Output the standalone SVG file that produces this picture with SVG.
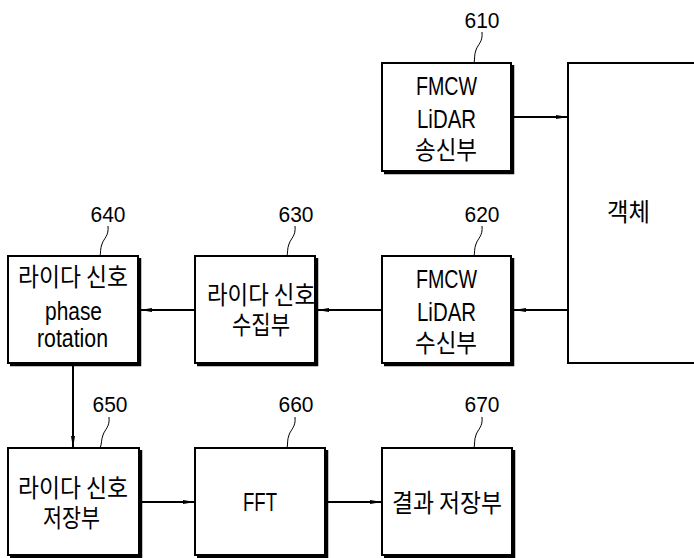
<svg xmlns="http://www.w3.org/2000/svg" width="694" height="558" viewBox="0 0 694 558">
<defs>
<marker id="ah" markerWidth="12" markerHeight="6" refX="12" refY="3" orient="auto" markerUnits="userSpaceOnUse">
<path d="M0,1 L12,3 L0,5 Z" fill="#000"/>
</marker>
<style>
.box{fill:#fff;stroke:#000;stroke-width:2}
.sh{fill:none;stroke:#000;stroke-width:2.5}
.t{font-family:"Liberation Sans",Arial,sans-serif;font-size:26px;text-anchor:middle;fill:#000}
.k{font-family:"Noto Sans CJK KR",sans-serif;font-size:25px;text-anchor:middle;fill:#000}
.n{font-family:"Liberation Sans",Arial,sans-serif;font-size:22px;text-anchor:middle;fill:#000}
.ld{fill:none;stroke:#000;stroke-width:1}
.c{fill:none;stroke:#000;stroke-width:2}
</style>
</defs>
<rect width="694" height="558" fill="#fff"/>

<g id="connectors">
<line class="c" x1="512" y1="117" x2="568" y2="117" marker-end="url(#ah)"/>
<line class="c" x1="568" y1="310" x2="514" y2="310" marker-end="url(#ah)"/>
<line class="c" x1="382" y1="310" x2="317" y2="310" marker-end="url(#ah)"/>
<line class="c" x1="195" y1="310" x2="140" y2="310" marker-end="url(#ah)"/>
<line class="c" x1="73" y1="364" x2="73" y2="448" marker-end="url(#ah)"/>
<line class="c" x1="140" y1="502" x2="195" y2="502" marker-end="url(#ah)"/>
<line class="c" x1="327" y1="502" x2="382" y2="502" marker-end="url(#ah)"/>
</g>

<g id="n610">
<polyline class="sh" points="513,65 513,173 384,173"/>
<rect class="box" x="382" y="63" width="129" height="108"/>
<text class="t" x="446.5" y="95" textLength="61" lengthAdjust="spacingAndGlyphs">FMCW</text>
<text class="t" x="446.5" y="128" textLength="59" lengthAdjust="spacingAndGlyphs">LiDAR</text>
<text class="k" x="446" y="159" textLength="62" lengthAdjust="spacingAndGlyphs">송신부</text>
<text class="n" x="482" y="28" textLength="35" lengthAdjust="spacingAndGlyphs">610</text>
<path class="ld" d="M482,32 C483,42 478,44 476,50 C474,55 475,59 474,63"/>
</g>

<g id="object">
<rect class="box" x="568" y="63" width="140" height="300"/>
<text class="k" x="628.5" y="221" textLength="43" lengthAdjust="spacingAndGlyphs">객체</text>
</g>

<g id="n620">
<polyline class="sh" points="513,258 513,365 384,365"/>
<rect class="box" x="382" y="256" width="129" height="107"/>
<text class="t" x="446.5" y="288" textLength="61" lengthAdjust="spacingAndGlyphs">FMCW</text>
<text class="t" x="446.5" y="321" textLength="59" lengthAdjust="spacingAndGlyphs">LiDAR</text>
<text class="k" x="446" y="352" textLength="62" lengthAdjust="spacingAndGlyphs">수신부</text>
<text class="n" x="482" y="222" textLength="35" lengthAdjust="spacingAndGlyphs">620</text>
<path class="ld" d="M482,226 C483,236 478,238 476,244 C474,249 475,252 474,256"/>
</g>

<g id="n630">
<polyline class="sh" points="317,258 317,365 197,365"/>
<rect class="box" x="195" y="256" width="120" height="107"/>
<text class="k" x="261" y="304" textLength="108" lengthAdjust="spacingAndGlyphs">라이다 신호</text>
<text class="k" x="261" y="334" textLength="58" lengthAdjust="spacingAndGlyphs">수집부</text>
<text class="n" x="296" y="222" textLength="35" lengthAdjust="spacingAndGlyphs">630</text>
<path class="ld" d="M295,226 C296,236 291,238 289,244 C287,249 288,252 287,256"/>
</g>

<g id="n640">
<polyline class="sh" points="140,258 140,365 10,365"/>
<rect class="box" x="8" y="256" width="130" height="107"/>
<text class="k" x="73" y="286" textLength="110" lengthAdjust="spacingAndGlyphs">라이다 신호</text>
<text class="t" x="73.5" y="320" textLength="57" lengthAdjust="spacingAndGlyphs">phase</text>
<text class="t" x="72.5" y="347" textLength="71" lengthAdjust="spacingAndGlyphs">rotation</text>
<text class="n" x="108" y="222" textLength="35" lengthAdjust="spacingAndGlyphs">640</text>
<path class="ld" d="M108,226 C109,236 104,238 102,244 C100,249 101,252 100,256"/>
</g>

<g id="n650">
<polyline class="sh" points="141,450 141,557 10,557"/>
<rect class="box" x="8" y="448" width="131" height="107"/>
<text class="k" x="73" y="497" textLength="110" lengthAdjust="spacingAndGlyphs">라이다 신호</text>
<text class="k" x="71.5" y="527" textLength="57" lengthAdjust="spacingAndGlyphs">저장부</text>
<text class="n" x="110" y="412" textLength="35" lengthAdjust="spacingAndGlyphs">650</text>
<path class="ld" d="M109,417 C110,427 105,429 103,435 C101,440 102,444 100,448"/>
</g>

<g id="n660">
<polyline class="sh" points="327,450 327,557 197,557"/>
<rect class="box" x="195" y="448" width="130" height="107"/>
<text class="t" x="260" y="511" textLength="34" lengthAdjust="spacingAndGlyphs">FFT</text>
<text class="n" x="296" y="412" textLength="35" lengthAdjust="spacingAndGlyphs">660</text>
<path class="ld" d="M295,417 C296,427 291,429 289,435 C287,440 288,444 287,448"/>
</g>

<g id="n670">
<polyline class="sh" points="514,450 514,557 384,557"/>
<rect class="box" x="382" y="448" width="130" height="107"/>
<text class="k" x="447" y="512" textLength="110" lengthAdjust="spacingAndGlyphs">결과 저장부</text>
<text class="n" x="482" y="412" textLength="35" lengthAdjust="spacingAndGlyphs">670</text>
<path class="ld" d="M482,417 C483,427 478,429 476,435 C474,440 475,444 474,448"/>
</g>
</svg>
